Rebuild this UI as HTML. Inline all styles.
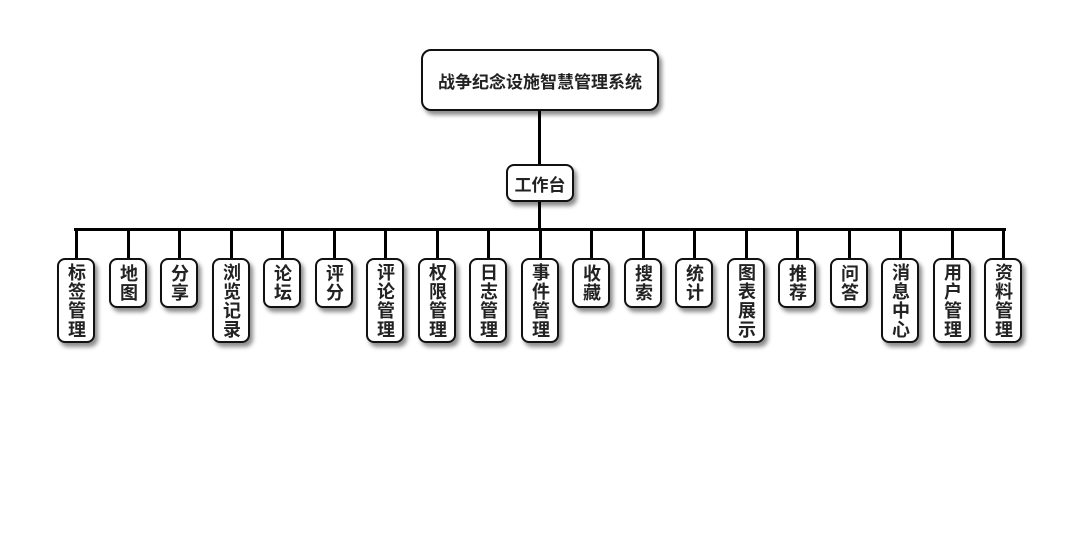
<!DOCTYPE html>
<html><head><meta charset="utf-8"><style>
body{margin:0;width:1080px;height:560px;background:#fff;position:relative;overflow:hidden;font-family:"Liberation Sans","Noto Sans CJK SC",sans-serif;}
.b{position:absolute;background:#fff;border:2px solid #111;border-radius:8px;box-shadow:3px 4px 4px rgba(0,0,0,.45);box-sizing:border-box;display:flex;align-items:center;justify-content:center;font-weight:bold;color:#222;font-size:17px;}
.v{writing-mode:vertical-rl;text-orientation:upright;line-height:1;letter-spacing:1px;font-size:18px;}
.l{position:absolute;background:#000;}
</style></head><body>
<div class="l" style="left:538px;top:110px;width:3px;height:56px"></div>
<div class="l" style="left:538px;top:200px;width:3px;height:30px"></div>
<div class="l" style="left:74px;top:228px;width:932px;height:3px"></div>
<div class="b" style="left:421px;top:49px;width:238px;height:62px;border-radius:10px">战争纪念设施智慧管理系统</div>
<div class="b" style="left:506px;top:164px;width:68px;height:38px">工作台</div>
<div id="leaves"></div>
<script>
var n=["标签管理","地图","分享","浏览记录","论坛","评分","评论管理","权限管理","日志管理","事件管理","收藏","搜索","统计","图表展示","推荐","问答","消息中心","用户管理","资料管理"];
var h='';
for(var i=0;i<n.length;i++){var c=Math.round(76+i*51.5);
h+='<div class="l" style="left:'+(c-1)+'px;top:229px;width:3px;height:30px"></div>';
var hh=n[i].length==2?50:85;
h+='<div class="b" style="left:'+(c-19)+'px;top:258px;width:38px;height:'+hh+'px"><span class="v">'+n[i]+'</span></div>';}
document.getElementById('leaves').innerHTML=h;
</script>
</body></html>
